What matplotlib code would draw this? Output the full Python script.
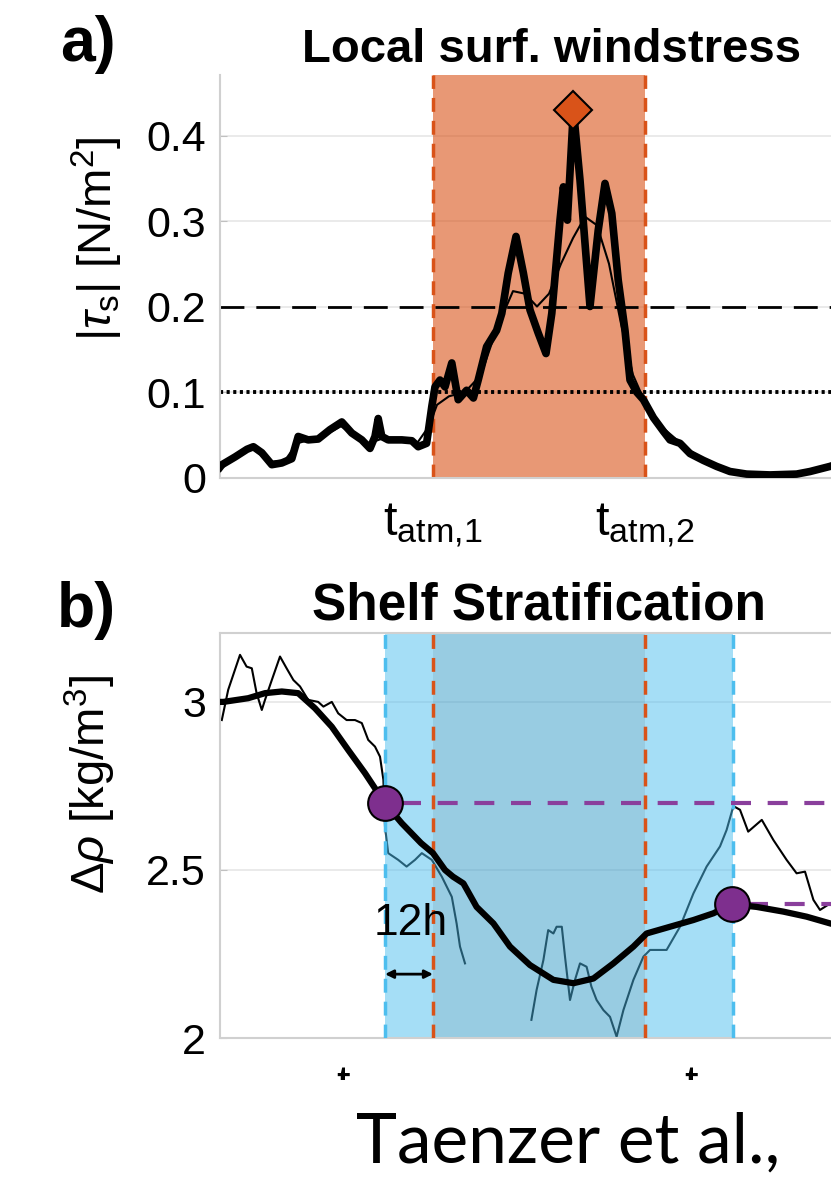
import matplotlib
matplotlib.use('Agg')
import matplotlib.pyplot as plt
import numpy as np
from matplotlib.patches import Rectangle

plt.rcParams['font.family'] = 'Liberation Sans'
plt.rcParams['mathtext.fontset'] = 'custom'
plt.rcParams['mathtext.rm'] = 'Liberation Sans'
plt.rcParams['mathtext.it'] = 'Liberation Sans:italic'
plt.rcParams['mathtext.bf'] = 'Liberation Sans:bold'

# time axis in hours, relative to t_atm,1
t_atm = [0, 53]
t_atm_labels = [r'$\mathregular{t_{atm{,}1}}$', r'$\mathregular{t_{atm{,}2}}$']
t_ocn = [-12, 75]
t_ocn_labels = [r'$\mathregular{t_{ocn{,}1}}$', r'$\mathregular{t_{ocn{,}2}}$']

# a) local surface windstress |tau_s| [N/m2]
ta_raw = [-53.25, -52.75, -49.5, -46.5, -44.9, -42.8, -40.3, -37.8, -35.3, -33.7,
          -31.2, -28.7, -25.75, -22.8, -20.3, -17.8, -15.75, -14.5, -13.7, -12.8,
          -11.2, -7.8, -5.3, -3.7, -1.6, -0.3, 0.5, 1.75, 3, 4.7,
          6.3, 8.4, 10.1, 11.3, 13.4, 15.9, 17.2, 18.8, 20.75, 22.6,
          24.25, 26.3, 28.25, 29.7, 31.75, 32.6, 33.6, 35.1, 36.75, 39.25,
          41.3, 43, 44.7, 46.3, 48, 49.25, 50.9, 52.6, 55.1, 57.6,
          59.25, 61.75, 64.25, 67.6, 70.9, 74.25, 78.4, 84.25, 90.9, 94.25,
          99.25, 104, 112]
tau_raw = [0.012, 0.015, 0.024, 0.033, 0.036, 0.029, 0.015, 0.017, 0.022, 0.048,
           0.044, 0.045, 0.056, 0.065, 0.052, 0.044, 0.034, 0.048, 0.069, 0.048,
           0.044, 0.044, 0.043, 0.036, 0.040, 0.083, 0.106, 0.114, 0.106, 0.134,
           0.091, 0.102, 0.093, 0.114, 0.153, 0.172, 0.192, 0.239, 0.282, 0.239,
           0.196, 0.169, 0.145, 0.192, 0.301, 0.340, 0.301, 0.430, 0.348, 0.200,
           0.289, 0.344, 0.309, 0.231, 0.172, 0.114, 0.100, 0.091, 0.070, 0.054,
           0.044, 0.040, 0.028, 0.020, 0.013, 0.007, 0.004, 0.003, 0.004, 0.007,
           0.013, 0.020, 0.030]
ta_smooth = [-53, -49, -45, -41, -37, -34, -30, -26, -23, -20, -16, -13, -8, -4, -1,
             1, 4, 8, 12, 16, 20, 23, 26, 29, 32, 35, 38, 41, 44, 47,
             50, 53, 57, 62, 67, 72, 78, 85, 91, 95, 100, 112]
tau_smooth = [0.015, 0.028, 0.034, 0.018, 0.020, 0.040, 0.045, 0.052, 0.060, 0.050,
              0.040, 0.045, 0.043, 0.040, 0.060, 0.085, 0.095, 0.100, 0.120, 0.175,
              0.218, 0.215, 0.200, 0.215, 0.250, 0.280, 0.305, 0.295, 0.250, 0.180,
              0.120, 0.088, 0.060, 0.040, 0.022, 0.010, 0.005, 0.003, 0.004, 0.008,
              0.014, 0.030]
tau_peak_t = 35.1
tau_peak = 0.43
tau_hi = 0.2
tau_lo = 0.1

# b) shelf stratification delta rho [kg/m3]
tb_smooth = [-53.25, -52.4, -46.2, -42, -37.8, -33.7, -29.5, -25.3, -21.2, -17,
             -12, -7.8, -3, 0, 3, 5, 7.6, 10.9, 15.1, 19.25,
             24.25, 30.1, 35.1, 40.1, 45.1, 50.1, 53.4, 59.25, 65.1, 70.1,
             74.7, 80.9, 87.6, 93.4, 99.25, 106, 114]
drho_smooth = [3.0, 3.0, 3.011, 3.026, 3.031, 3.026, 2.981, 2.926, 2.857, 2.788,
               2.698, 2.639, 2.58, 2.55, 2.50, 2.48, 2.46, 2.39, 2.341, 2.272,
               2.217, 2.173, 2.163, 2.177, 2.222, 2.272, 2.311, 2.331, 2.351, 2.371,
               2.398, 2.39, 2.376, 2.361, 2.341, 2.32, 2.30]
tb_raw = [-52.8, -51.2, -48.25, -46.6, -45.3, -44.1, -42.8, -42, -40.3, -38.25,
          -36.6, -34.9, -33.25, -31.2, -28.7, -27.4, -25.3, -23.7, -21.6, -19.5,
          -17.8, -16.2, -14.5, -13.25, -12.4, -12, -11.2, -8.7, -6.6, -4.5,
          -2.8, -0.3, 2.2, 4.7, 5.9, 6.75, 8, 16,
          24.6, 25.9, 27.6, 28.8, 30.1, 30.9, 32.2, 33, 34.25, 35.5,
          36.75, 38.4, 39.6, 40.9, 42.6, 44.25, 45.9, 47.6, 50.1, 52.6,
          54.25, 58.4, 61.75, 65.1, 68.4, 71.75, 73.4, 75.1, 76.75, 78.8,
          82.2, 85.1, 88.4, 90.9, 93, 95.1, 96.75, 99.25, 103]
drho_raw = [2.946, 3.036, 3.14, 3.105, 3.1, 3.026, 2.976, 3.006, 3.065, 3.135,
            3.1, 3.065, 3.046, 3.006, 3.0, 2.986, 3.0, 2.966, 2.946, 2.946,
            2.937, 2.887, 2.867, 2.837, 2.768, 2.629, 2.55, 2.53, 2.51, 2.53,
            2.55, 2.53, 2.48, 2.42, 2.341, 2.272, 2.222, np.nan,
            2.054, 2.143, 2.232, 2.321, 2.311, 2.331, 2.331, 2.242, 2.113, 2.173,
            2.222, 2.212, 2.153, 2.113, 2.083, 2.063, 2.004, 2.083, 2.173, 2.242,
            2.262, 2.262, 2.331, 2.43, 2.51, 2.57, 2.619, 2.69, 2.679, 2.614,
            2.649, 2.589, 2.53, 2.49, 2.495, 2.411, 2.381, 2.40, 2.37]
dot_t = [-12, 74.7]
dot_drho = [2.70, 2.398]

orange = '#D95319'
blue = '#4DBEEE'
purple = '#7E2F8E'
W, H = 831, 1177
xlim = (-53.25, 112.75)


def px_axes(left, top, right, bottom):
    return [left / W, 1 - bottom / H, (right - left) / W, (bottom - top) / H]


def style_axes(ax, xpad):
    for s in ax.spines.values():
        s.set_color('#d0d0d0')
        s.set_linewidth(1.5)
    ax.grid(axis='y', color='#e6e6e6', lw=1.2, zorder=0)
    ax.tick_params(axis='y', direction='in', length=5, color='#c0c0c0',
                   labelsize=31, pad=10)
    ax.tick_params(axis='x', length=0, labelsize=35, pad=xpad)
    ax.set_axisbelow(True)


fig = plt.figure(figsize=(W / 100, H / 100), dpi=100)

# ---- panel a
ax1 = fig.add_axes(px_axes(220, 75, 884, 477.5))
style_axes(ax1, 17)
ax1.spines['top'].set_visible(False)
ax1.axvspan(t_atm[0], t_atm[1], color=orange, alpha=0.6, lw=0, zorder=1)
for t in t_atm:
    ax1.axvline(t, color=orange, lw=2.5, dashes=(4, 2.6), zorder=2)
ax1.axhline(tau_hi, color='k', lw=2, dashes=(8.6, 4.3), zorder=2)
ax1.axhline(tau_lo, color='k', lw=2.8, dashes=(0.8, 0.9), zorder=2)
ax1.plot(ta_raw, tau_raw, color='k', lw=5.5, solid_joinstyle='round', zorder=3)
ax1.plot(ta_smooth, tau_smooth, color='k', lw=1.5, zorder=4)
ax1.plot([tau_peak_t], [tau_peak], marker='D', ms=19, color=orange,
         mec='k', mew=1.5, zorder=5)
ax1.set_xlim(xlim)
ax1.set_ylim(0, 0.4708)
ax1.set_yticks([0, 0.1, 0.2, 0.3, 0.4])
ax1.set_yticklabels(['0', '0.1', '0.2', '0.3', '0.4'])
ax1.set_xticks(t_atm)
ax1.set_xticklabels(t_atm_labels)
ax1.set_title('Local surf. windstress', fontsize=34, fontweight='bold', pad=9)
ax1.set_ylabel(r'$|\tau_\mathregular{s}|$ [N/m$^\mathregular{2}$]', fontsize=34)
ax1.yaxis.set_label_coords((125 - 220) / 664, 0.593)

# ---- panel b
ax2 = fig.add_axes(px_axes(220, 633, 884, 1038))
style_axes(ax2, 20)
ax2.plot(tb_raw, drho_raw, color='k', lw=1.5, zorder=1)
ax2.axvspan(t_ocn[0], t_ocn[1], color=blue, alpha=0.5, lw=0, zorder=2)
ax2.axvspan(t_atm[0], t_atm[1], color='k', alpha=0.08, lw=0, zorder=2)
for t in t_ocn:
    ax2.axvline(t, color=blue, lw=2.5, dashes=(4, 2.6), zorder=3)
for t in t_atm:
    ax2.axvline(t, color=orange, lw=2.5, dashes=(4, 2.6), zorder=3)
for t, d in zip(dot_t, dot_drho):
    ax2.plot([t + 4, xlim[1]], [d, d], color='#8a3f9c', lw=3, dashes=(4.8, 4), zorder=3)
ax2.plot(tb_smooth, drho_smooth, color='k', lw=4.5, zorder=4)
ax2.plot(dot_t, dot_drho, 'o', ms=25, color=purple, mec='k', mew=1.5, zorder=5)
ax2.annotate('', xy=(t_ocn[0], 2.19), xytext=(t_atm[0], 2.19),
             arrowprops=dict(arrowstyle='<|-|>', color='k', lw=2,
                             mutation_scale=12, shrinkA=0, shrinkB=0), zorder=6)
ax2.text(-5.5, 2.34, '12h', fontsize=32, ha='center', va='center', zorder=6)
ax2.set_xlim(xlim)
ax2.set_ylim(2, 3.205)
ax2.set_yticks([2, 2.5, 3])
ax2.set_yticklabels(['2', '2.5', '3'])
ax2.set_xticks(t_ocn)
ax2.set_xticklabels(t_ocn_labels)
ax2.set_title('Shelf Stratification', fontsize=37, fontweight='bold', pad=10,
              x=(539 - 220) / 664)
ax2.set_ylabel(r'$\Delta\rho$ [kg/m$^\mathregular{3}$]', fontsize=34)
ax2.yaxis.set_label_coords((118 - 220) / 664, 0.625)

fig.text(60 / W, 1 - 45 / H, 'a)', fontsize=45, fontweight='bold', va='center', ha='left')
fig.text(57 / W, 1 - 611 / H, 'b)', fontsize=45, fontweight='bold', va='center', ha='left')

# citation box covering the lower part of panel b's tick labels
fig.add_artist(Rectangle((0, 0), 1, 1 - 1080 / H, transform=fig.transFigure,
                         facecolor='white', edgecolor='none', zorder=10))
fig.text(356 / W, 1 - 1163 / H, 'Taenzer et al.,', fontsize=50, family='Lato',
         va='baseline', ha='left', zorder=11)

fig.savefig('out.png', dpi=100)
